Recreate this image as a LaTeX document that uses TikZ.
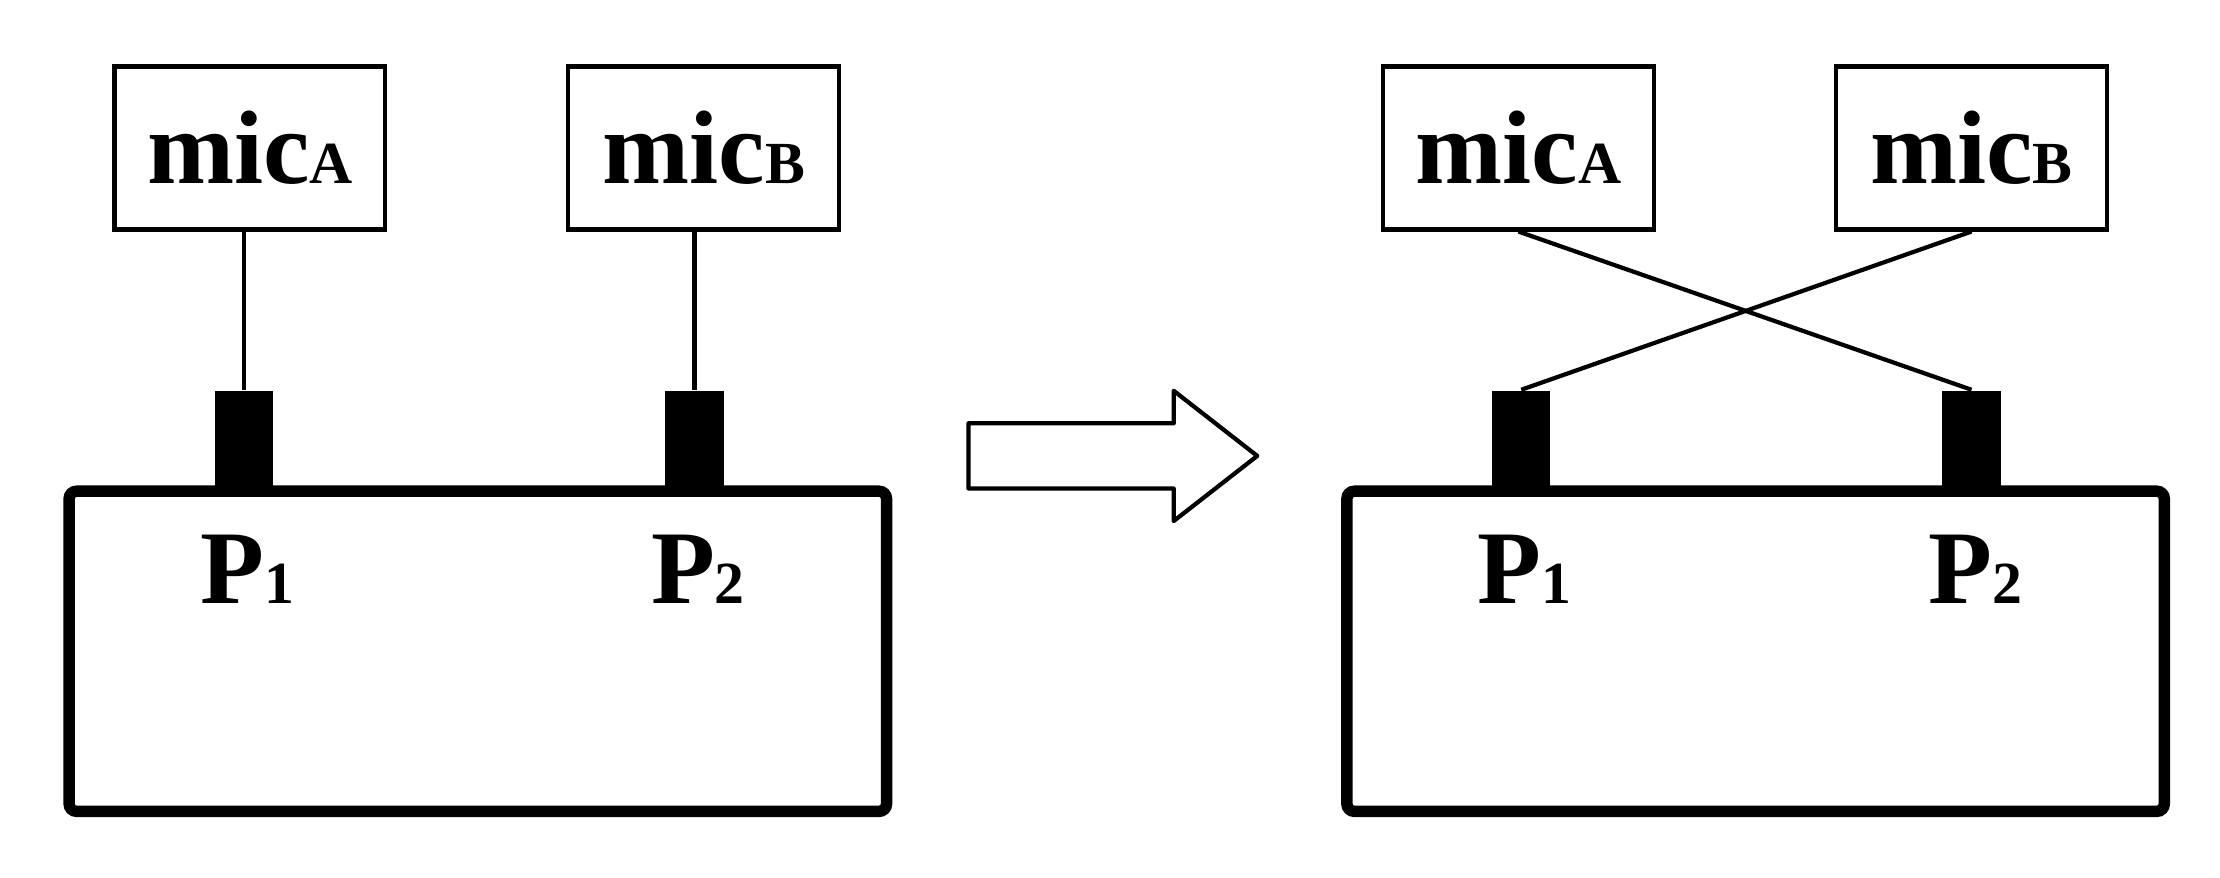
\documentclass[tikz,border=0pt]{standalone}
\usepackage{fontspec}
\setmainfont{Liberation Serif}[BoldFont={Liberation Serif Bold}]
\usetikzlibrary{positioning}
\newcommand{\lowidx}[1]{{\fontsize{12}{12}\selectfont #1}}
\begin{document}
\begin{tikzpicture}[x=0.01cm,y=-0.01cm,
        mic/.style={rectangle, draw, line width=0.85pt, minimum width=1.91cm, minimum height=1.15cm, inner sep=0pt, font=\fontsize{21}{24}\selectfont\bfseries},
        board/.style={rectangle, draw, line width=2.3pt, rounded corners=1.5pt, minimum width=5.77cm, minimum height=2.26cm, inner sep=0pt},
        port/.style={rectangle, fill=black, minimum width=0.41cm, minimum height=0.69cm, inner sep=0pt},
        plabel/.style={font=\fontsize{21}{24}\selectfont\bfseries},
        wire/.style={line width=0.85pt},
    ]
    \useasboundingbox (0,0) rectangle (1568,620);
    % Left: straight wiring
    \node[board] (boardL) at (337.5,460) {};
    \node[port] (pLa) at (172.5,310.5) {};
    \node[port] (pLb) at (490.5,310.5) {};
    \node[plabel] (tLa) at (175,402) {P\lowidx{1}};
    \node[plabel] (tLb) at (493,402) {P\lowidx{2}};
    \node[mic] (mLa) at (176.5,104.5) {mic\lowidx{A}};
    \node[mic] (mLb) at (497,104.5) {mic\lowidx{B}};
    \draw[wire] (mLa.south -| pLa) -- (pLa.north);
    \draw[wire] (mLb.south -| pLb) -- (pLb.north);

    % Arrow between the two
    \draw[line width=0.85pt, line join=round] (684,299) -- (829,299) -- (829,276) -- (888,322)
        -- (829,368) -- (829,345) -- (684,345) -- cycle;

    % Right: crossed wiring
    \node[board] (boardR) at (1240,460) {};
    \node[port] (pRa) at (1074.5,310.5) {};
    \node[port] (pRb) at (1392.5,310.5) {};
    \node[plabel] (tRa) at (1077,402) {P\lowidx{1}};
    \node[plabel] (tRb) at (1395,402) {P\lowidx{2}};
    \node[mic] (mRa) at (1072.5,104.5) {mic\lowidx{A}};
    \node[mic] (mRb) at (1392.5,104.5) {mic\lowidx{B}};
    \draw[wire] (mRa.south) -- (pRb.north);
    \draw[wire] (mRb.south) -- (pRa.north);
\end{tikzpicture}
\end{document}
